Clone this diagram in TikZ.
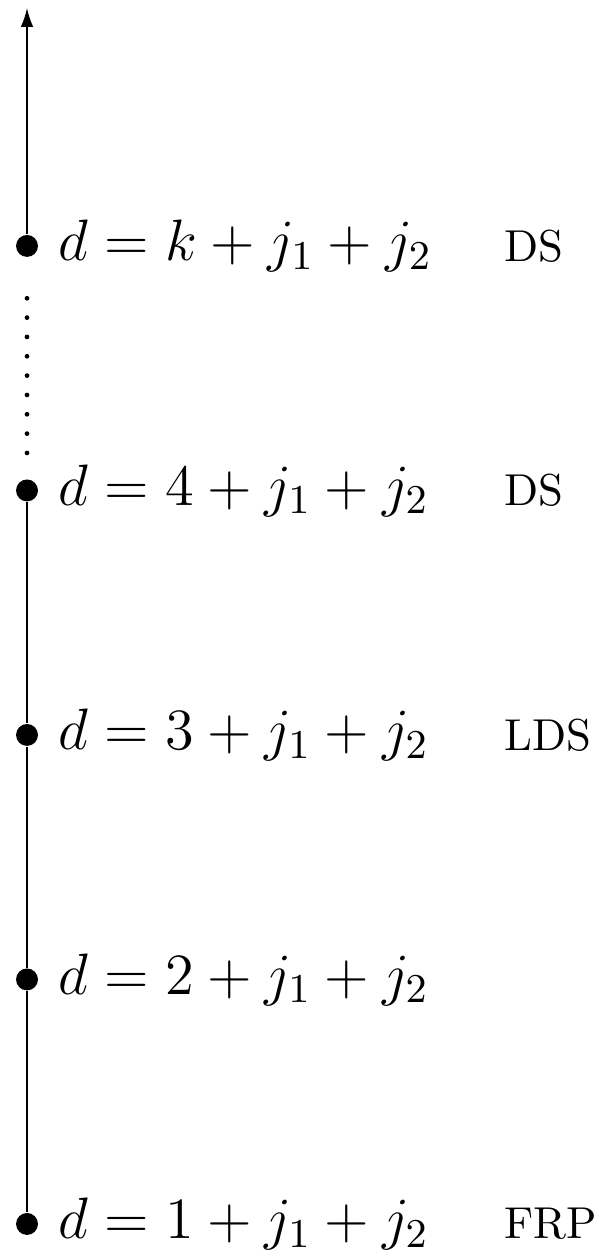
\RequirePackage{fix-cm}
\documentclass[tikz,border=0pt]{standalone}
\usepackage{amsmath,amssymb}
\usepackage{tikz}
\usetikzlibrary{arrows.meta,positioning}
\tikzset{
  lvl/.style={circle,fill=black,inner sep=0pt,minimum size=5.1pt},
  eqn/.style={anchor=west,inner sep=0pt,font=\fontsize{13.6}{16}\selectfont},
  tag/.style={anchor=west,inner sep=0pt,font=\fontsize{10.4}{12}\selectfont},
  ar/.style={-{Latex[length=4.4pt,width=2.9pt]}},
  dotline/.style={line width=1.1pt,line cap=round,dash pattern=on 0pt off 4.5pt}
}
\begin{document}
\begin{tikzpicture}
\useasboundingbox (-0.221,-0.254) rectangle (4.687,10.012);
\node[lvl] (d1) at (0,0) {};
\node[lvl] (d2) at (0,2) {};
\node[lvl] (d3) at (0,4) {};
\node[lvl] (d4) at (0,6) {};
\node[lvl] (dk) at (0,8) {};
\coordinate (tip) at (0,9.947);
\draw (d1) -- (d2) -- (d3) -- (d4);
\draw[dotline,shorten <=0.21cm,shorten >=0.33cm] (d4) -- (dk);
\draw[ar] (dk) -- (tip);
\node[eqn] (e1) at (0.254,0) {$d=1+j_1+j_2$};
\node[eqn] (e2) at (0.254,2) {$d=2+j_1+j_2$};
\node[eqn] (e3) at (0.254,4) {$d=3+j_1+j_2$};
\node[eqn] (e4) at (0.254,6) {$d=4+j_1+j_2$};
\node[eqn] (ek) at (0.254,8) {$d=k+j_1+j_2$};
\node[tag] (t1) at (3.90,0) {FRP};
\node[tag] (t3) at (3.90,4) {LDS};
\node[tag] (t4) at (3.90,6) {DS};
\node[tag] (tk) at (3.90,8) {DS};
\end{tikzpicture}
\end{document}
